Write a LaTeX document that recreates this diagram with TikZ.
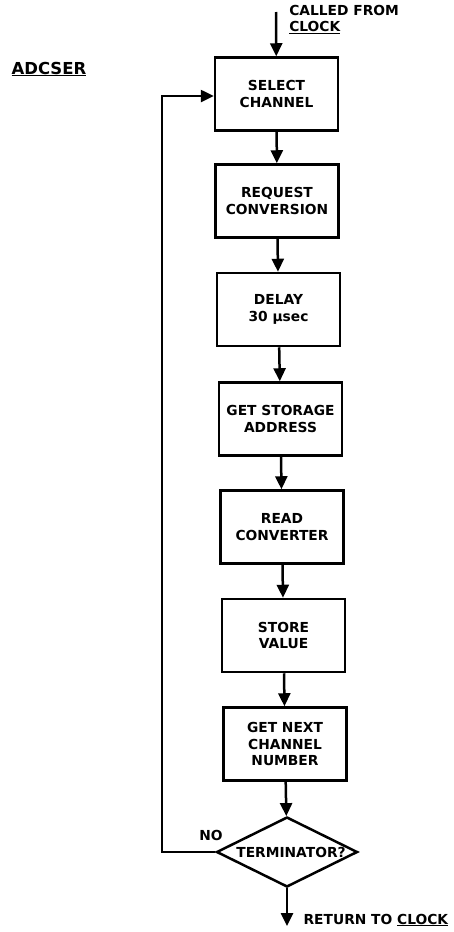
\documentclass[tikz,border=0pt]{standalone}
\usepackage{fontspec}
\setmainfont{DejaVu Sans}
\usetikzlibrary{shapes.geometric,arrows.meta}
\begin{document}
\begin{tikzpicture}[x=1pt,y=1pt,
  font=\bfseries\fontsize{13.8}{16.5}\selectfont,
  line width=2.5pt,
  stepbox/.style={draw, rectangle, minimum width=123pt, minimum height=73pt, align=center, inner sep=0pt},
  decision/.style={draw, diamond, minimum width=141pt, minimum height=70pt, inner sep=0pt},
  flow/.style={-{Triangle[width=12pt,length=13pt]}}
]
\useasboundingbox (0,0) rectangle (454,-932);

\node[font=\bfseries\fontsize{16.5}{19}\selectfont, anchor=west] (title) at (7,-69) {\underline{ADCSER}};

\node[stepbox] (s1) at (276.5,-94) {SELECT\\CHANNEL};
\node[stepbox] (s2) at (277,-201) {REQUEST\\CONVERSION};
\node[stepbox] (s3) at (278.5,-309.5) {DELAY\\30 μsec};
\node[stepbox] (s4) at (280.5,-419) {GET STORAGE\\ADDRESS};
\node[stepbox] (s5) at (282,-527) {READ\\CONVERTER};
\node[stepbox] (s6) at (283.5,-635.5) {STORE\\VALUE};
\node[stepbox] (s7) at (285,-744) {GET NEXT\\CHANNEL\\NUMBER};
\node[decision] (d) at (287,-852) {\makebox[0pt]{\hspace{8pt}TERMINATOR?}};

\coordinate (start) at (276,-12);
\coordinate (stop) at (287,-926);
\coordinate (lb) at (162,-852);
\coordinate (lt) at (162,-96);

\node[anchor=north west, align=left, inner sep=2pt] (called) at (286,-2) {CALLED FROM\\\underline{CLOCK}};
\node[anchor=west] (ret) at (299,-920) {RETURN TO \underline{CLOCK}};
\node[anchor=south] (no) at (211,-845) {NO};

\draw[flow] (start) -- (s1);
\draw[flow] (s1) -- (s2);
\draw[flow] (s2) -- (s3);
\draw[flow] (s3) -- (s4);
\draw[flow] (s4) -- (s5);
\draw[flow] (s5) -- (s6);
\draw[flow] (s6) -- (s7);
\draw[flow] (s7) -- (d);
\draw[flow] (d) -- (stop);
\draw[flow] (d.west) -- (lb) -- (lt) -- (s1.west |- lt);
\end{tikzpicture}
\end{document}
